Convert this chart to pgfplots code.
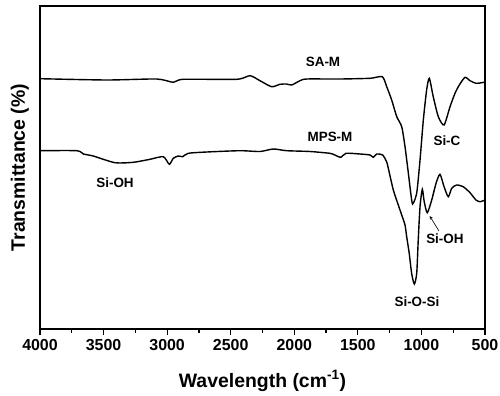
\documentclass[border=0pt]{standalone}
\usepackage{fontspec}
\setmainfont{Liberation Sans}
\usepackage{pgfplots}
\pgfplotsset{compat=1.18}
\begin{document}
\begin{tikzpicture}
\begin{axis}[
  at={(0,0)}, anchor=south west,
  scale only axis, width=445bp, height=323bp,
  xmin=500, xmax=4000, x dir=reverse,
  ymin=6, ymax=329, y dir=reverse,
  xtick={500,1000,...,4000}, minor x tick num=1,
  xtick pos=left, tick align=outside,
  ymajorticks=false,
  major tick length=6bp, minor tick length=3.5bp,
  every tick/.style={line width=1.2bp, black},
  axis line style={line width=1.5bp},
  /pgf/number format/1000 sep={},
  /pgf/number format/assume math mode=true,
  ticklabel style={font=\fontsize{16}{16}\selectfont\bfseries},
  xticklabel style={yshift=-1bp},
  xlabel={Wavelength (cm\textsuperscript{-1})},
  ylabel={Transmittance (\%)},
  label style={font=\fontsize{19.5}{20}\selectfont\bfseries},
  xlabel style={at={(axis description cs:0.5,-0.1796)}, anchor=base},
  ylabel style={at={(axis description cs:-0.0337,0.5)}, anchor=base},
  clip=false,
]
\addplot[black, line width=1.4bp, smooth, tension=0.4] coordinates {
(4000,78.7) (3475,80) (3082,79) (2952,82.3) (2873,79.3) (2453,79.3) (2348,75.7)
(2270,80.7) (2178,86.7) (2112,84.3) (2060,84) (2020,85) (1955,80.7) (1902,79)
(1640,79) (1404,78.3) (1308,76.7) (1273,86.7) (1234,100) (1194,116.7) (1155,126.7)
(1129,146.7) (1103,173) (1084,193) (1069,204) (1037,193) (1011,160) (985,120)
(959,90) (938,78.3) (907,96.7) (867,116.7) (822,125) (775,106.7) (736,93.3)
(702,85) (657,77.3) (618,80.7) (571,83.3) (526,82.7) (500,82)
};
\addplot[black, line width=1.4bp, smooth, tension=0.4] coordinates {
(4000,150.7) (3711,150.7) (3659,154) (3581,156) (3410,162.7) (3266,162.3)
(3135,159.3) (3030,156.7) (2983,164.3) (2952,158.3) (2912,156) (2878,156.7)
(2834,153.3) (2689,152) (2427,150.7) (2270,151.5) (2165,149) (2060,150.7)
(1876,151.5) (1719,153.3) (1693,154.3) (1635,157.3) (1593,153.3) (1483,154)
(1404,155) (1379,157.3) (1352,154) (1305,155) (1273,162) (1261,168) (1221,190)
(1182,205) (1155,215) (1129,225) (1116,236.7) (1096,253.3) (1077,273.3)
(1056,284) (1037,273.3) (1025,240) (1011,206.7) (993,189.3) (978,201.7)
(954,212.7) (919,200) (885,183.3) (854,174.3) (822,186.7) (789,196.7)
(762,188.3) (723,185) (671,186.7) (618,192.7) (571,200) (539,201.7) (500,200)
};
\begin{scope}[every node/.style={font=\fontsize{13.5}{13.5}\selectfont\bfseries}]
\node at (axis cs:1774,62) {SA-M};
\node at (axis cs:1719,137) {MPS-M};
\node at (axis cs:799,141) {Si-C};
\node at (axis cs:3410,183) {Si-OH};
\node at (axis cs:815,239) {Si-OH};
\node at (axis cs:1035,302) {Si-O-Si};
\end{scope}
\draw[-stealth, line width=0.6bp] (axis cs:862,231) -- (axis cs:935,216);
\end{axis}
\pgfresetboundingbox
\path[use as bounding box] (-40bp,-67bp) rectangle (460bp,329bp);
\end{tikzpicture}
\end{document}
